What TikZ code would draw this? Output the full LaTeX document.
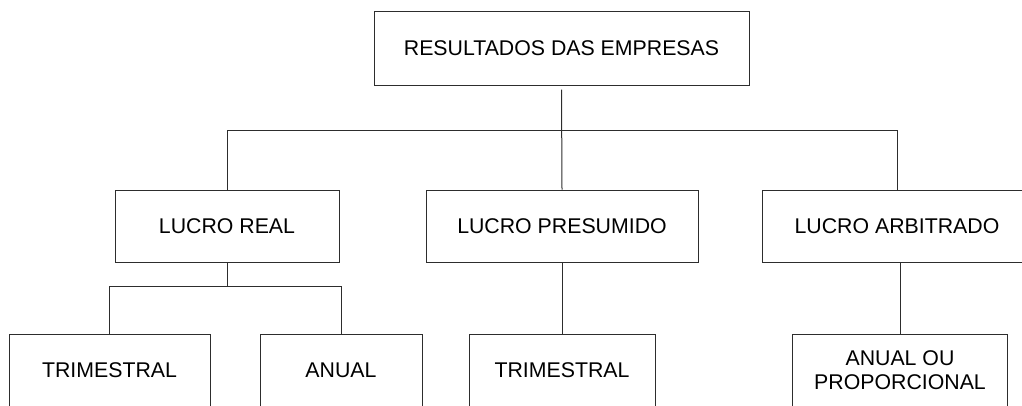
\documentclass[tikz,border=0pt]{standalone}
\usepackage{fontspec}
\setmainfont{Liberation Sans}
\definecolor{linec}{RGB}{45,45,45}
\begin{document}
\begin{tikzpicture}[x=1pt,y=-1pt,
  box/.style={draw=linec, line width=1pt, rectangle, inner sep=0pt, minimum height=72pt, align=center,
    font=\fontsize{21.3}{24}\selectfont, text=black},
  conn/.style={draw=linec, line width=1pt}]
\useasboundingbox (0,0) rectangle (1022,405);
\clip (0,0) rectangle (1022,405);
\node[box, minimum width=375pt, minimum height=74pt] (top) at (561.5,48) {RESULTADOS DAS EMPRESAS};
\node[box, minimum width=224pt] (lr) at (227,226) {LUCRO REAL};
\node[box, minimum width=272pt] (lp) at (562,226) {LUCRO PRESUMIDO};
\node[box, minimum width=270pt] (la) at (897,226) {LUCRO ARBITRADO};
\node[box, minimum width=201pt] (t1) at (109.5,370) {TRIMESTRAL};
\node[box, minimum width=162pt] (an) at (341,370) {ANUAL};
\node[box, minimum width=186pt] (t2) at (562,370) {TRIMESTRAL};
\node[box, minimum width=215pt] (ap) at (900,370) {ANUAL OU\\PROPORCIONAL};
\coordinate (bar) at (0,130);
\coordinate (bar2) at (0,286);
\coordinate (topout) at ([yshift=-4pt]top.south);
\draw[conn] (topout) -- (lp.north);
\draw[conn] (lr.north) |- (bar -| la.north) -- (la.north);
\draw[conn] (lr.south) -- (lr.south |- bar2);
\draw[conn] (t1.north) |- (bar2 -| an.north) -- (an.north);
\draw[conn] (lp.south) -- (t2.north);
\draw[conn] (ap.north |- la.south) -- (ap.north);
\end{tikzpicture}
\end{document}
